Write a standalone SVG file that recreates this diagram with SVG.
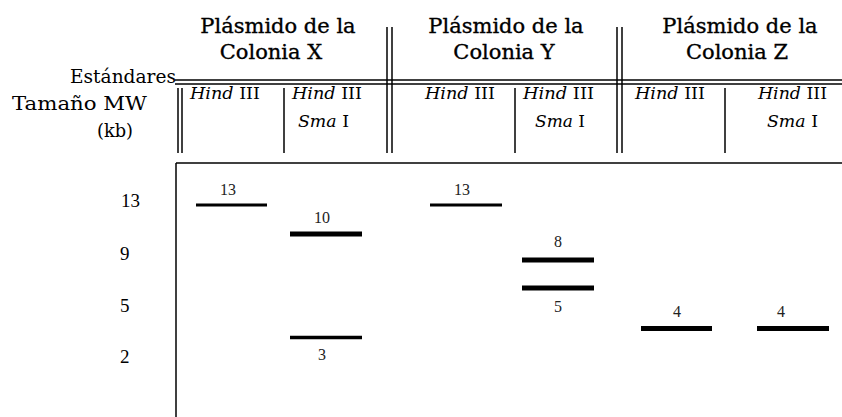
<svg xmlns="http://www.w3.org/2000/svg" width="842" height="417" viewBox="0 0 842 417">
<style>
.t{font-family:"DejaVu Serif","Liberation Serif",serif;fill:#000}
.title{font-size:21px;text-anchor:middle;stroke:#000;stroke-width:0.35}
.lab{font-size:19px}
.enz{font-size:16px}
.it{font-style:italic}
.num{font-family:"Liberation Serif",serif;font-size:19px;fill:#000}
.bn{font-family:"Liberation Serif",serif;font-size:16px;fill:#222;text-anchor:middle}
.ln{stroke:#000;stroke-width:1.5;fill:none}
.band{stroke:#000;fill:none}
</style>
<rect width="842" height="417" fill="#fff"/>
<g id="headers">
<text class="t title" x="278" y="33">Plásmido de la</text>
<text class="t title" x="271" y="59">Colonia X</text>
<text class="t title" x="506" y="33">Plásmido de la</text>
<text class="t title" x="504" y="59">Colonia Y</text>
<text class="t title" x="740" y="33">Plásmido de la</text>
<text class="t title" x="737" y="59">Colonia Z</text>
<text class="t lab" x="70" y="83" textLength="106" lengthAdjust="spacingAndGlyphs">Estándares</text>
<text class="t lab" x="12" y="110" textLength="135" lengthAdjust="spacingAndGlyphs">Tamaño MW</text>
<text class="t lab" x="97" y="137" textLength="36" lengthAdjust="spacingAndGlyphs">(kb)</text>
</g>
<g id="enzymes">
<text class="t enz" x="190" y="99" textLength="70" lengthAdjust="spacingAndGlyphs"><tspan class="it">Hind</tspan> III</text>
<text class="t enz" x="292" y="99" textLength="70" lengthAdjust="spacingAndGlyphs"><tspan class="it">Hind</tspan> III</text>
<text class="t enz" x="298" y="127" textLength="51" lengthAdjust="spacingAndGlyphs"><tspan class="it">Sma</tspan> I</text>
<text class="t enz" x="425" y="99" textLength="70" lengthAdjust="spacingAndGlyphs"><tspan class="it">Hind</tspan> III</text>
<text class="t enz" x="523" y="99" textLength="71" lengthAdjust="spacingAndGlyphs"><tspan class="it">Hind</tspan> III</text>
<text class="t enz" x="535" y="127" textLength="50" lengthAdjust="spacingAndGlyphs"><tspan class="it">Sma</tspan> I</text>
<text class="t enz" x="635" y="99" textLength="70" lengthAdjust="spacingAndGlyphs"><tspan class="it">Hind</tspan> III</text>
<text class="t enz" x="758" y="99" textLength="69" lengthAdjust="spacingAndGlyphs"><tspan class="it">Hind</tspan> III</text>
<text class="t enz" x="767" y="127" textLength="51" lengthAdjust="spacingAndGlyphs"><tspan class="it">Sma</tspan> I</text>
</g>
<g id="grid">
<line class="ln" x1="175" y1="80" x2="842" y2="80"/>
<line class="ln" x1="175" y1="84" x2="842" y2="84"/>
<line class="ln" x1="178" y1="88" x2="178" y2="153"/>
<line class="ln" x1="182" y1="88" x2="182" y2="153"/>
<line class="ln" x1="387" y1="27" x2="387" y2="153"/>
<line class="ln" x1="392" y1="27" x2="392" y2="153"/>
<line class="ln" x1="617" y1="27" x2="617" y2="153"/>
<line class="ln" x1="622" y1="27" x2="622" y2="153"/>
<line class="ln" x1="284" y1="88" x2="284" y2="153"/>
<line class="ln" x1="515" y1="88" x2="515" y2="153"/>
<line class="ln" x1="725" y1="88" x2="725" y2="153"/>
<line class="ln" x1="176" y1="163" x2="842" y2="163"/>
<line class="ln" x1="176" y1="163" x2="176" y2="417"/>
</g>
<g id="scale">
<text class="num" x="121" y="207">13</text>
<text class="num" x="120" y="260">9</text>
<text class="num" x="120" y="312">5</text>
<text class="num" x="120" y="363">2</text>
</g>
<g id="bands">
<line class="band" stroke-width="3" x1="196" y1="205" x2="267" y2="205"/>
<text class="bn" x="228" y="195">13</text>
<line class="band" stroke-width="5" x1="290" y1="234" x2="362" y2="234"/>
<text class="bn" x="322" y="223">10</text>
<line class="band" stroke-width="3.5" x1="290" y1="337.5" x2="362" y2="337.5"/>
<text class="bn" x="322" y="360">3</text>
<line class="band" stroke-width="3" x1="430" y1="205" x2="502" y2="205"/>
<text class="bn" x="462" y="195">13</text>
<line class="band" stroke-width="5" x1="522" y1="260" x2="594" y2="260"/>
<text class="bn" x="558" y="247">8</text>
<line class="band" stroke-width="5" x1="522" y1="288" x2="594" y2="288"/>
<text class="bn" x="558" y="312">5</text>
<line class="band" stroke-width="5" x1="641" y1="328.5" x2="712" y2="328.5"/>
<text class="bn" x="677" y="317">4</text>
<line class="band" stroke-width="5" x1="757" y1="328.5" x2="829" y2="328.5"/>
<text class="bn" x="781" y="317">4</text>
</g>
</svg>
